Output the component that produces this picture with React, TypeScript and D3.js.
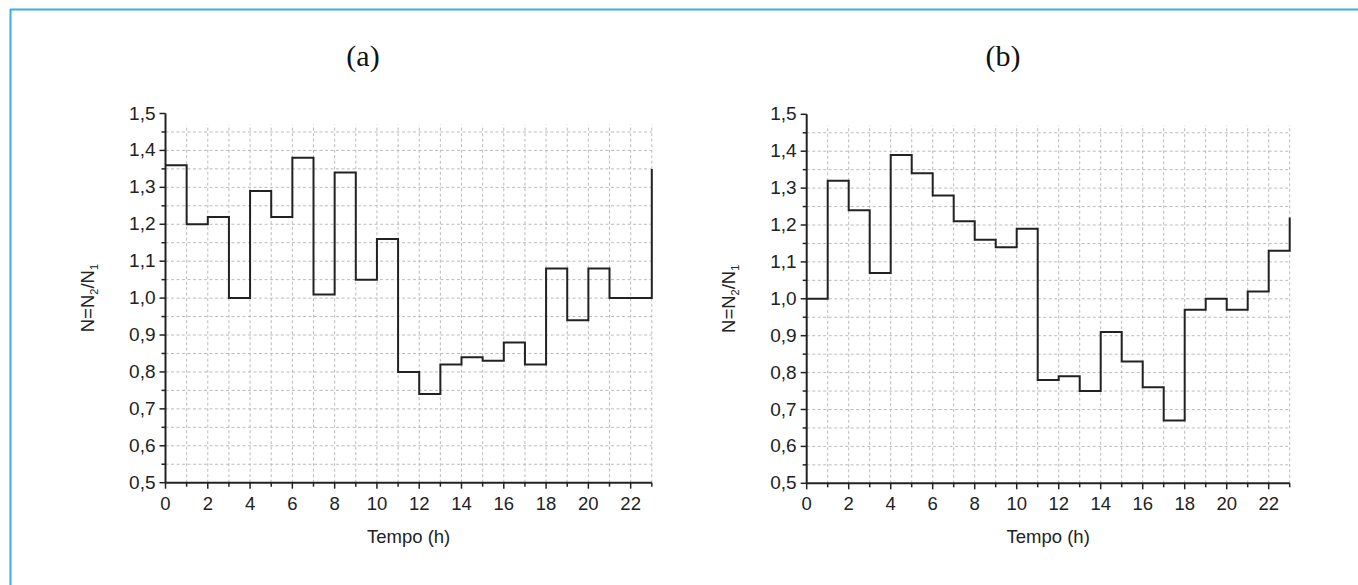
import React from "react";
import * as d3 from "d3";

const hours = d3.range(0, 24);
const seriesA = [1.36, 1.2, 1.22, 1.0, 1.29, 1.22, 1.38, 1.01, 1.34, 1.05, 1.16, 0.8, 0.74, 0.82, 0.84, 0.83, 0.88, 0.82, 1.08, 0.94, 1.08, 1.0, 1.0, 1.35];
const seriesB = [1.0, 1.32, 1.24, 1.07, 1.39, 1.34, 1.28, 1.21, 1.16, 1.14, 1.19, 0.78, 0.79, 0.75, 0.91, 0.83, 0.76, 0.67, 0.97, 1.0, 0.97, 1.02, 1.13, 1.22];
const panelTitles = ["(a)", "(b)"];
const xTickValues = [0, 2, 4, 6, 8, 10, 12, 14, 16, 18, 20, 22];
const yTickValues = [0.5, 0.6, 0.7, 0.8, 0.9, 1.0, 1.1, 1.2, 1.3, 1.4, 1.5];
const xLabel = "Tempo (h)";

const fmt = (v: number) => v.toFixed(1).replace(".", ",");

type PanelProps = { left: number; right: number; top: number; bottom: number; values: number[]; title: string; titleX: number; yLabelX: number };

function Panel({ left, right, top, bottom, values, title, titleX, yLabelX }: PanelProps) {
  const x = d3.scaleLinear().domain([0, 23]).range([left, right]);
  const y = d3.scaleLinear().domain([0.5, 1.5]).range([bottom, top]);
  const line = d3
    .line<number>()
    .x((_, i) => x(hours[i]))
    .y((d) => y(d))
    .curve(d3.curveStepAfter);
  const hGrid = d3.range(11, 30).map((k) => k * 0.05);
  const vGrid = d3.range(1, 24);
  const minorY = d3.range(0, 10).map((k) => 0.55 + k * 0.1);
  const minorX = d3.range(1, 24, 2);
  const font = "Liberation Sans, Arial, sans-serif";
  return (
    <g>
      <text x={titleX} y={66} textAnchor="middle" fontFamily="Liberation Serif, Times New Roman, serif" fontSize={30} fill="#111">
        {title}
      </text>
      {hGrid.map((v) => (
        <line key={"h" + v} x1={x(0)} x2={x(23)} y1={y(v)} y2={y(v)} stroke="#bbbbbb" strokeWidth={1} strokeDasharray="3,2.5" />
      ))}
      {vGrid.map((v) => (
        <line key={"v" + v} x1={x(v)} x2={x(v)} y1={y(0.5)} y2={y(1.47)} stroke="#bbbbbb" strokeWidth={1} strokeDasharray="3,2.5" />
      ))}
      <path d={line(values) || ""} fill="none" stroke="#222" strokeWidth={2} />
      <line x1={x(0)} x2={x(0)} y1={y(0.5)} y2={y(1.5)} stroke="#222" strokeWidth={2} />
      <line x1={x(0)} x2={x(23)} y1={y(0.5)} y2={y(0.5)} stroke="#222" strokeWidth={2} />
      {yTickValues.map((v) => (
        <g key={"yt" + v}>
          <line x1={x(0) - 6} x2={x(0)} y1={y(v)} y2={y(v)} stroke="#222" strokeWidth={1.5} />
          <text x={x(0) - 10} y={y(v) + 6} textAnchor="end" fontFamily={font} fontSize={19} fill="#222">
            {fmt(v)}
          </text>
        </g>
      ))}
      {minorY.map((v) => (
        <line key={"ym" + v} x1={x(0) - 4} x2={x(0)} y1={y(v)} y2={y(v)} stroke="#222" strokeWidth={1.5} />
      ))}
      {xTickValues.map((v) => (
        <g key={"xt" + v}>
          <line x1={x(v)} x2={x(v)} y1={y(0.5)} y2={y(0.5) + 6} stroke="#222" strokeWidth={1.5} />
          <text x={x(v)} y={y(0.5) + 27} textAnchor="middle" fontFamily={font} fontSize={18.5} fill="#222">
            {v}
          </text>
        </g>
      ))}
      {minorX.map((v) => (
        <line key={"xm" + v} x1={x(v)} x2={x(v)} y1={y(0.5)} y2={y(0.5) + 4} stroke="#222" strokeWidth={1.5} />
      ))}
      <text x={(x(0) + x(23)) / 2} y={543} textAnchor="middle" fontFamily={font} fontSize={18.5} fill="#222">
        {xLabel}
      </text>
      <text transform={`translate(${yLabelX},${y(1.0)}) rotate(-90)`} textAnchor="middle" fontFamily={font} fontSize={18.5} fill="#222">
        N=N<tspan fontSize={11} dy={4}>2</tspan>
        <tspan dy={-4}>/N</tspan>
        <tspan fontSize={11} dy={4}>1</tspan>
      </text>
    </g>
  );
}

export default function App() {
  return (
    <svg width={1358} height={585} style={{ position: "absolute", left: 0, top: 0, background: "#fff" }}>
      <rect x={0} y={0} width={1358} height={585} fill="#fff" />
      <line x1={10.5} x2={10.5} y1={9} y2={585} stroke="#3aaee0" strokeWidth={2} />
      <line x1={10} x2={1358} y1={9.5} y2={9.5} stroke="#3aaee0" strokeWidth={2} />
      <Panel left={165.5} right={651.8} top={113.5} bottom={482.7} values={seriesA} title={panelTitles[0]} titleX={363} yLabelX={94} />
      <Panel left={806.7} right={1289.7} top={114.3} bottom={483.3} values={seriesB} title={panelTitles[1]} titleX={1003} yLabelX={735} />
    </svg>
  );
}
